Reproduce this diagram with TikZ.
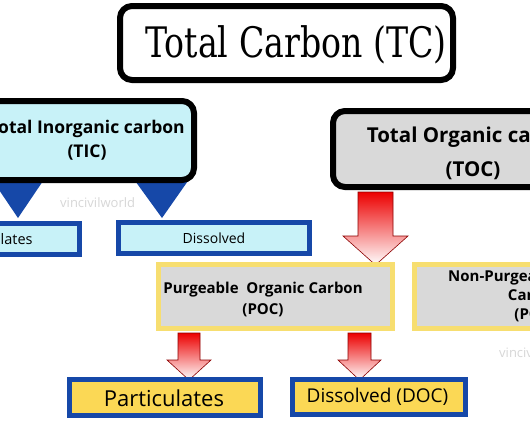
\documentclass[tikz,border=0pt]{standalone}
\usepackage{fontspec}
\setmainfont{Open Sans}
\newfontfamily\titlefont{DejaVu Serif}
\definecolor{cyanfill}{RGB}{200,242,248}
\definecolor{darkblue}{RGB}{22,72,168}
\definecolor{yelline}{RGB}{247,222,112}
\definecolor{yelfill}{RGB}{251,216,85}
\definecolor{grayfill}{RGB}{217,217,217}
\definecolor{arrowred}{RGB}{236,0,0}
\definecolor{wmark}{RGB}{215,215,215}
\tikzset{
  blackbox/.style={draw=black, line width=6pt, rounded corners=12pt, inner sep=0pt, align=center},
  bluebox/.style={draw=darkblue, line width=5pt, inner sep=0pt, align=center},
  yellowbox/.style={draw=yelline, line width=5pt, fill=grayfill, inner sep=0pt, align=center},
  boldtxt/.style={font=\bfseries\fontsize{15}{21}\selectfont, align=center, inner sep=0pt},
  redarrow/.style={draw=red!55!black, line width=0.6pt, top color=arrowred, middle color=arrowred, bottom color=white},
  wm/.style={text=wmark, font=\fontsize{13}{15}\selectfont, inner sep=0pt}
}
\begin{document}
\begin{tikzpicture}[x=1pt,y=-1pt]
\useasboundingbox (0,0) rectangle (530,442);
\clip (0,0) rectangle (530,442);
\fill[white] (0,0) rectangle (530,442);

% watermarks
\node[wm, anchor=west] (wm1) at (60,203) {vincivilworld};
\node[wm, anchor=west] (wm2) at (499,353) {vincivilworld};

% Total Carbon
\node[blackbox, fill=white, minimum width=333pt, minimum height=74pt] (tc) at (286.5,43) {};
\node[inner sep=0pt, font=\titlefont\fontsize{42}{46}\selectfont] (tctext) at (296,45) {\scalebox{0.79}[1]{Total Carbon (TC)}};

% TIC triangles
\fill[darkblue] (-9,178) -- (45,178) -- (18,218) -- cycle;
\fill[darkblue] (133,178) -- (190,178) -- (162,218) -- cycle;

% TIC
\node[blackbox, fill=cyanfill, minimum width=214pt, minimum height=79pt,
      font=\bfseries\fontsize{17.5}{24}\selectfont] (tic) at (87,140.5)
      {Total Inorganic carbon\\(TIC)};

% TIC children
\node[bluebox, fill=cyanfill, minimum width=173pt, minimum height=31pt,
      font=\fontsize{14.5}{16}\selectfont] (ticp) at (-7,239) {Particulates};
\node[bluebox, fill=cyanfill, minimum width=191pt, minimum height=31pt,
      font=\fontsize{14}{16}\selectfont] (ticd) at (214,238) {Dissolved};

% TOC
\node[blackbox, fill=grayfill, minimum width=287pt, minimum height=76pt,
      font=\bfseries\fontsize{20.5}{34}\selectfont] (toc) at (476.5,149) {};
\node[align=center, inner sep=0pt, font=\bfseries\fontsize{20.5}{34}\selectfont] (toctext) at (473,153)
      {Total Organic carbon\\(TOC)};

% red arrow TOC -> POC
\shadedraw[redarrow] (358,192) -- (393,192) -- (393,236) -- (408,236) -- (375.5,265) -- (343,236) -- (358,236) -- cycle;

% POC
\node[yellowbox, minimum width=234pt, minimum height=64pt] (poc) at (275.5,296.5) {};
\node[boldtxt] (poctext) at (263,299) {Purgeable~~Organic Carbon\\(POC)};

% NPOC
\node[yellowbox, minimum width=242pt, minimum height=64pt] (npoc) at (535,296.5) {};
\node[boldtxt, font=\bfseries\fontsize{15}{19}\selectfont] (npoctext) at (535,296) {Non-Purgeable Organic\\Carbon\\(POC)};

% red arrows POC -> children
\shadedraw[redarrow] (178,333) -- (200,333) -- (200,360) -- (211,360) -- (189,380) -- (167,360) -- (178,360) -- cycle;
\shadedraw[redarrow] (348,333) -- (371,333) -- (371,360) -- (381,360) -- (359.5,380) -- (338,360) -- (348,360) -- cycle;

% POC children
\node[bluebox, fill=yelfill, minimum width=191pt, minimum height=36pt] (pp) at (165,397.5) {};
\node[inner sep=0pt, font=\fontsize{22}{26}\selectfont] (pptext) at (164,398) {Particulates};
\node[bluebox, fill=yelfill, minimum width=173pt, minimum height=35pt] (pd) at (379,397) {};
\node[inner sep=0pt, font=\fontsize{19}{22}\selectfont] (pdtext) at (377.5,397) {Dissolved (DOC)};
\end{tikzpicture}
\end{document}
